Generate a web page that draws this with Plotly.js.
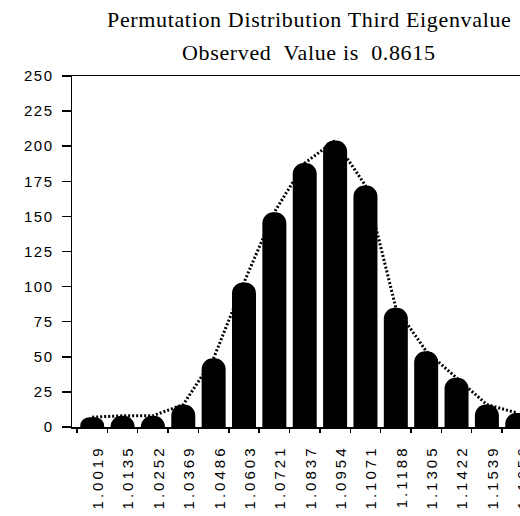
<!DOCTYPE html>
<html>
<head>
<meta charset="utf-8">
<script src="https://cdn.plot.ly/plotly-3.0.1.min.js"></script>
<style>
  html, body { margin: 0; padding: 0; overflow: hidden; background: #fff; }
  #chart { width: 520px; height: 516px; }
  .xtick text { letter-spacing: 3px; }
  .ytick text { letter-spacing: 1.5px; }
  .annotation-text { letter-spacing: 0.65px; }
</style>
</head>
<body>
<div id="chart"></div>
<script>
const categories = ["1.0019","1.0135","1.0252","1.0369","1.0486","1.0603","1.0721","1.0837","1.0954","1.1071","1.1188","1.1305","1.1422","1.1539","1.1656"];
const counts = [7, 8, 8, 16, 49, 103, 153, 188, 204, 172, 85, 54, 35, 16, 10];
const yTicks = [0, 25, 50, 75, 100, 125, 150, 175, 200, 225, 250];
const titleLine1 = "Permutation Distribution Third Eigenvalue";
const titleLine2 = "Observed&nbsp; Value is&nbsp; 0.8615";

const traces = [
  {
    type: "scatter",
    mode: "lines",
    x: categories,
    y: counts,
    line: { color: "#000", width: 3, dash: "2px,2px" },
    hoverinfo: "skip",
    cliponaxis: true
  },
  {
    type: "bar",
    x: categories,
    y: counts,
    marker: { color: "#000", cornerradius: 12, line: { width: 0 } }
  }
];

const layout = {
  width: 520,
  height: 516,
  margin: { l: 72, r: 0, t: 76, b: 89 },
  paper_bgcolor: "#fff",
  plot_bgcolor: "#fff",
  showlegend: false,
  bargap: 0.21,
  font: { family: "Liberation Sans, Arial, sans-serif", color: "#000" },
  xaxis: {
    type: "category",
    range: [-0.665, 14.09],
    showgrid: false,
    zeroline: false,
    showline: true,
    linecolor: "#000",
    linewidth: 1.5,
    mirror: true,
    ticks: "outside",
    tickson: "boundaries",
    ticklen: 4,
    tickwidth: 1.5,
    tickcolor: "#000",
    tickangle: -90,
    tickfont: { size: 15, color: "#000", family: "Liberation Sans, Arial, sans-serif" },
    ticklabelstandoff: 11,
    ticklabelshift: 6
  },
  yaxis: {
    range: [0, 250],
    tickvals: yTicks,
    ticktext: yTicks.map(String),
    showgrid: false,
    zeroline: false,
    showline: true,
    linecolor: "#000",
    linewidth: 1.5,
    ticks: "outside",
    ticklen: 9,
    tickwidth: 1.5,
    tickcolor: "#000",
    tickfont: { size: 15, color: "#000", family: "Liberation Sans, Arial, sans-serif" },
    ticklabelstandoff: 5
  },
  annotations: [
    {
      text: titleLine1, xref: "paper", yref: "paper",
      x: 0.528, y: 1, yshift: 57, xanchor: "center", yanchor: "middle",
      showarrow: false,
      font: { family: "Liberation Serif, Times New Roman, serif", size: 22, color: "#000" }
    },
    {
      text: titleLine2, xref: "paper", yref: "paper",
      x: 0.528, y: 1, yshift: 24, xanchor: "center", yanchor: "middle",
      showarrow: false,
      font: { family: "Liberation Serif, Times New Roman, serif", size: 22, color: "#000" }
    }
  ]
};

Plotly.newPlot("chart", traces, layout, { staticPlot: true, displayModeBar: false });
</script>
</body>
</html>
